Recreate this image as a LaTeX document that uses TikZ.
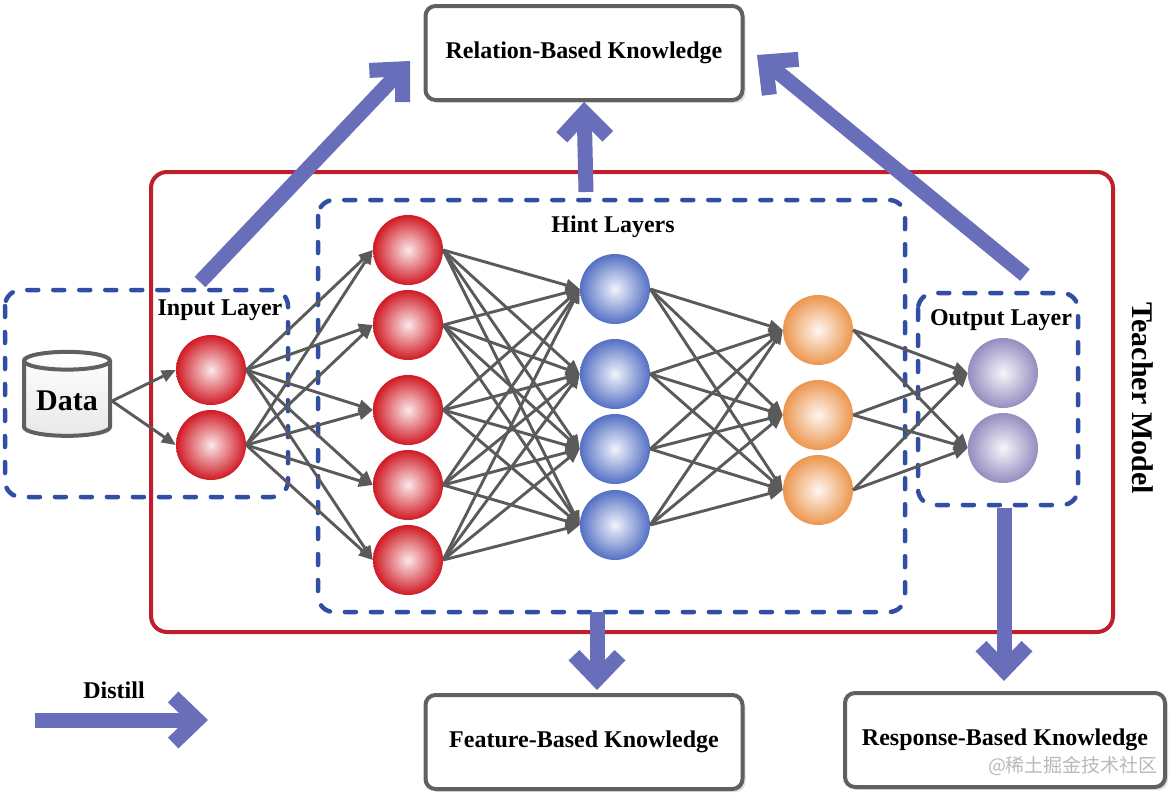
\documentclass[tikz,border=0pt]{standalone}
\usepackage{fontspec}
\setmainfont{Liberation Serif}
\newfontfamily\cjkfont{Noto Sans CJK SC}
\usetikzlibrary{arrows.meta,shapes.geometric,shadows}

\definecolor{netred}{RGB}{208,26,36}
\definecolor{netblue}{RGB}{84,112,196}
\definecolor{netorange}{RGB}{236,150,78}
\definecolor{netpurple}{RGB}{150,140,192}
\definecolor{linkgray}{RGB}{90,90,90}
\definecolor{boxgray}{RGB}{96,96,96}
\definecolor{boxblue}{RGB}{48,78,164}
\definecolor{teachred}{RGB}{192,30,44}
\definecolor{fatblue}{RGB}{104,110,186}

\tikzset{
  neuron/.style={circle, minimum size=70pt, inner sep=0pt},
  redn/.style={neuron, inner color=netred!10!white, outer color=netred},
  bluen/.style={neuron, inner color=netblue!8!white, outer color=netblue},
  orangen/.style={neuron, inner color=netorange!8!white, outer color=netorange},
  purplen/.style={neuron, inner color=netpurple!8!white, outer color=netpurple},
  link/.style={draw=linkgray, line width=2.9pt, -{Triangle[length=14pt,width=12pt]}},
  layerbox/.style={draw=boxblue, line width=4.5pt, line cap=round, dash pattern=on 11pt off 15pt, rounded corners=16pt},
  teacherbox/.style={draw=teachred, line width=4pt, rounded corners=16pt},
  knowbox/.style={draw=boxgray, line width=4pt, rounded corners=10pt, fill=white,
    drop shadow={shadow xshift=3pt, shadow yshift=-3pt, opacity=0.25},
    minimum width=317pt, minimum height=94pt, font=\fontsize{24}{28}\selectfont\bfseries},
  layername/.style={font=\fontsize{24}{28}\selectfont\bfseries},
  fatarrow/.style={draw=fatblue, line width=15pt, -{Straight Barb[length=24pt,width=46pt,line width=15pt]}}
}

\begin{document}
\begin{tikzpicture}[x=1pt,y=-1pt]
  \useasboundingbox (0,0) rectangle (1176,795);

  % frames
  \draw[teacherbox] (151,172) rectangle (1113,632);
  \draw[layerbox] (5,290) rectangle (288,497);
  \draw[layerbox] (318,200) rectangle (905,612);
  \draw[layerbox] (918,293) rectangle (1078,505);

  \node[layername] (inlab) at (220,310) {Input Layer};
  \node[layername] (hintlab) at (613,227) {Hint Layers};
  \node[layername] (outlab) at (1001,320) {Output Layer};
  \node[layername, font=\fontsize{30}{34}\selectfont\bfseries, rotate=-90] (teachlab) at (1143,398) {Teacher Model};

  % data store
  \node[cylinder, shape border rotate=90, aspect=0.26, minimum width=86pt, minimum height=84pt,
    draw=boxgray, line width=4pt, top color=white, bottom color=gray!18,
    font=\fontsize{30}{34}\selectfont\bfseries] (data) at (67,401) {Data};

  % layers
  \foreach \y [count=\i] in {370,445}
    \node[redn] (in\i) at (211,\y) {};
  \foreach \y [count=\i] in {250,325,410,485,560}
    \node[redn] (h\i) at (408,\y) {};
  \foreach \y [count=\i] in {289,374,449,525}
    \node[bluen] (b\i) at (615,\y) {};
  \foreach \y [count=\i] in {330,415,490}
    \node[orangen] (o\i) at (818,\y) {};
  \foreach \y [count=\i] in {373,448}
    \node[purplen] (out\i) at (1003,\y) {};

  % links
  \foreach \i in {1,2}
    \draw[link] (data.east) -- (in\i.west);
  \foreach \i in {1,2}
    \foreach \j in {1,...,5}
      \draw[link] (in\i.east) -- (h\j.west);
  \foreach \i in {1,...,5}
    \foreach \j in {1,...,4}
      \draw[link] (h\i.east) -- (b\j.west);
  \foreach \i in {1,...,4}
    \foreach \j in {1,2,3}
      \draw[link] (b\i.east) -- (o\j.west);
  \foreach \i in {1,2,3}
    \foreach \j in {1,2}
      \draw[link] (o\i.east) -- (out\j.west);

  % knowledge
  \node[knowbox] (rel) at (584,53) {Relation-Based Knowledge};
  \node[knowbox] (feat) at (584,742) {Feature-Based Knowledge};
  \node[knowbox, minimum width=320pt] (resp) at (1005,740) {Response-Based Knowledge};
  \node[text=gray!55, font=\fontsize{19}{22}\selectfont\cjkfont] (mark) at (1073,766) {@稀土掘金技术社区};

  % distill arrows
  \coordinate (inbase) at (200,282);
  \coordinate (hintbase) at (586,192);
  \coordinate (hintfoot) at (597,612);
  \coordinate (outbase) at (1025,275);
  \coordinate (outfoot) at (1004,508);
  \draw[fatarrow] (inbase) -- (410,61);
  \draw[fatarrow] (hintbase) -- (rel.south);
  \draw[fatarrow] (outbase) -- (757,55);
  \draw[fatarrow] (hintfoot) -- (597,690);
  \draw[fatarrow] (outfoot) -- (1004,681);

  \coordinate (keytail) at (35,720);
  \coordinate (keytip) at (208,720);
  \draw[fatarrow] (keytail) -- (keytip);
  \node[layername] (distlab) at (114,690) {Distill};
\end{tikzpicture}
\end{document}
